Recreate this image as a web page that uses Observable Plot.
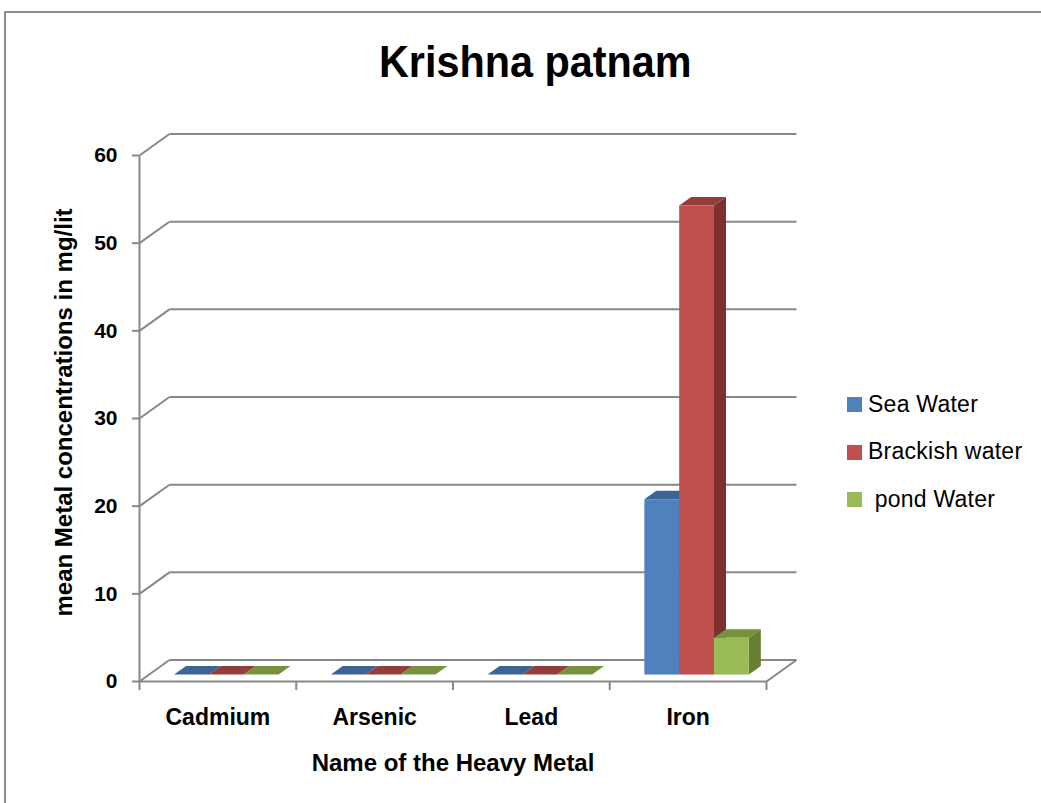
<!DOCTYPE html>
<html>
<head>
<meta charset="utf-8">
<script src="https://cdn.jsdelivr.net/npm/d3@7"></script>
<script src="https://cdn.jsdelivr.net/npm/@observablehq/plot@0.6"></script>
<style>
  body { margin: 0; background: #fff; }
  #wrap { position: relative; width: 1041px; height: 803px; overflow: hidden; background: #fff;
          font-family: "Liberation Sans", Arial, sans-serif; }
  #chart { position: absolute; left: 0; top: 0; }
  #frame { position: absolute; left: 4px; top: 11px; width: 1200px; height: 900px; z-index: 2;
           border-top: 2px solid #8e8e8e; border-left: 2px solid #8e8e8e; box-sizing: border-box; }
  #title { position: absolute; left: 0; width: 1070px; top: 40px; text-align: center;
           font-weight: bold; font-size: 44px; line-height: 44px; color: #000; }
  #title span { display: inline-block; transform: scaleX(0.94); }
  .leg { position: absolute; left: 847px; font-size: 23px; line-height: 23px; color: #000; white-space: pre; }
  .leg i { position: absolute; left: 0; width: 15px; height: 15px; }
  .leg span { position: absolute; left: 21px; letter-spacing: 0.25px; }
</style>
</head>
<body>
<div id="wrap">
  <div id="chart"></div>
  <div id="frame"></div>
  <div id="title"><span></span></div>
  <div id="legend"></div>
</div>
<script>
// ---- data ----
const title = "Krishna patnam";
const metals = ["Cadmium", "Arsenic", "Lead", "Iron"];
const seriesNames = ["Sea Water", "Brackish water", " pond Water"];
const seaWater = [0, 0, 0, 20.0];
const brackishWater = [0, 0, 0, 53.5];
const pondWater = [0, 0, 0, 4.2];
const yTicks = [0, 10, 20, 30, 40, 50, 60];
const xTitle = "Name of the Heavy Metal";
const yTitle = "mean Metal concentrations in mg/lit";

// ---- styles / geometry ----
const frontColors = ["#4F81BD", "#C0504D", "#9BBB59"];
const topColors = ["#3C6494", "#943D3B", "#76923C"];
const sideColors = ["#345882", "#7D302F", "#667F34"];
const gridColor = "#888888";
const DX = 0.191, DY = 2.45;   // full floor depth (x in category units, y in value units)
const F1 = 0.3, F2 = 0.7;      // bar front/back depth fractions
const BW = 1 / 4.5;            // bar width (gap width 150%)
const D = F2 - F1;

const seriesValues = [seaWater, brackishWater, pondWater];
const nCat = metals.length;

const bars = metals.flatMap((m, i) => seriesValues.map((vals, j) => ({
  id: `${i}-${j}`,
  x0: i + 0.75 * BW + j * BW + F1 * DX,
  y0: F1 * DY,
  v: vals[i],
  front: frontColors[j], top: topColors[j], side: sideColors[j]
})));

const tops = bars.flatMap(b => [
  {id: b.id, y: b.y0 + b.v, x1: b.x0, x2: b.x0 + BW, fill: b.top},
  {id: b.id, y: b.y0 + b.v + D * DY, x1: b.x0 + D * DX, x2: b.x0 + BW + D * DX, fill: b.top}
]);
const sides = bars.flatMap(b => [
  {id: b.id, x: b.x0 + BW, y1: b.y0, y2: b.y0 + b.v, fill: b.side},
  {id: b.id, x: b.x0 + BW + D * DX, y1: b.y0 + D * DY, y2: b.y0 + D * DY + b.v, fill: b.side}
]);

const floorEdges = [
  {x1: 0, y1: 0, x2: nCat, y2: 0},
  {x1: nCat, y1: 0, x2: nCat + DX, y2: DY},
  {x1: 0, y1: 0, x2: 0, y2: d3.max(yTicks)}
];

const lineStyle = {stroke: gridColor, strokeWidth: 2};

const plot = Plot.plot({
  width: 1041,
  height: 803,
  marginLeft: 139,
  marginRight: 275,
  marginTop: 155,
  marginBottom: 122,
  x: {type: "linear", domain: [0, nCat]},
  y: {type: "linear", domain: [0, d3.max(yTicks)]},
  style: {background: "transparent", fontFamily: "'Liberation Sans', Arial, sans-serif", overflow: "visible", color: "#000"},
  marks: [
    // back wall gridlines
    Plot.link(yTicks, {x1: () => DX, x2: () => nCat + DX, y1: d => d + DY, y2: d => d + DY, ...lineStyle}),
    // left wall diagonals
    Plot.link(yTicks, {x1: () => 0, x2: () => DX, y1: d => d, y2: d => d + DY, ...lineStyle}),
    // floor front edge, right diagonal, vertical axis
    Plot.link(floorEdges, {x1: "x1", y1: "y1", x2: "x2", y2: "y2", ...lineStyle}),
    Plot.axisY({ticks: yTicks, tickSize: 7, tickPadding: 15, tickFormat: d => d, label: null,
      fontSize: 21, fontWeight: "bold", stroke: gridColor, strokeWidth: 2, fill: "#000"}),
    Plot.axisX({ticks: d3.range(nCat + 1), tickSize: 9, tickFormat: () => "", label: null,
      stroke: gridColor, strokeWidth: 2}),
    // bars: sides, tops, fronts
    Plot.areaY(sides, {x: "x", y1: "y1", y2: "y2", z: "id", fill: "fill", curve: "linear"}),
    Plot.areaX(tops, {y: "y", x1: "x1", x2: "x2", z: "id", fill: "fill", curve: "linear"}),
    Plot.rect(bars, {x1: "x0", x2: d => d.x0 + BW, y1: "y0", y2: d => d.y0 + d.v, fill: "front"}),
    // category labels
    Plot.text(metals, {x: (d, i) => i + 0.5, text: d => d, frameAnchor: "bottom", dy: 43, lineAnchor: "bottom",
      fontSize: 23, fontWeight: "bold", fill: "#000"}),
    // axis titles
    Plot.text([xTitle], {text: d => d, frameAnchor: "bottom", dy: 89, lineAnchor: "bottom",
      fontSize: 24, fontWeight: "bold", fill: "#000"}),
    Plot.text([yTitle], {text: d => d, frameAnchor: "left", textAnchor: "middle", dx: -68, dy: -6, rotate: -90,
      lineAnchor: "bottom", fontSize: 24, fontWeight: "bold", fill: "#000"})
  ]
});
document.getElementById("chart").appendChild(plot);
document.querySelector("#title span").textContent = title;

// legend
const legend = document.getElementById("legend");
const baselines = [412, 459.5, 507];
seriesNames.forEach((name, j) => {
  const row = document.createElement("div");
  row.className = "leg";
  row.style.top = (baselines[j] - 19.5) + "px";
  const sw = document.createElement("i");
  sw.style.background = frontColors[j];
  sw.style.top = "4.5px";
  const tx = document.createElement("span");
  tx.textContent = name;
  row.appendChild(sw);
  row.appendChild(tx);
  legend.appendChild(row);
});
</script>
</body>
</html>
